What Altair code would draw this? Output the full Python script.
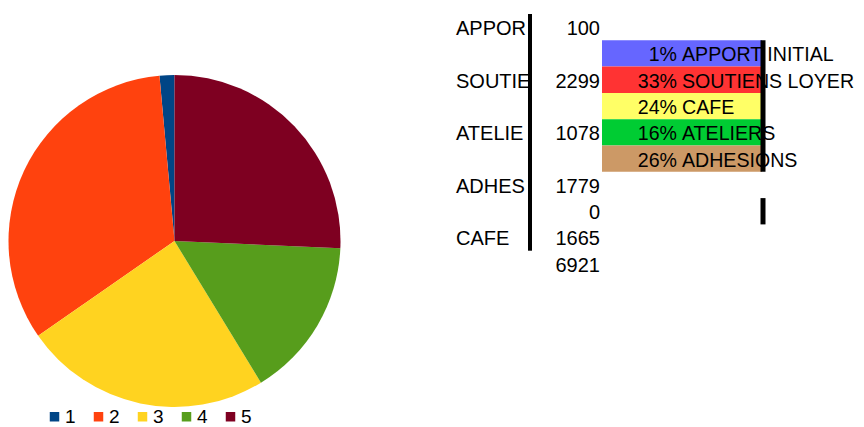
import altair as alt
import pandas as pd

# ---- data ----
slices = ["1", "2", "3", "4", "5"]
slice_values = [100, 2299, 1665, 1078, 1779]
slice_names = ["APPORT INITIAL", "SOUTIENS LOYER", "CAFE", "ATELIERS", "ADHESIONS"]

table_label_rows = [0, 2, 4, 6, 8]
table_labels = ["APPOR", "SOUTIE", "ATELIE", "ADHES", "CAFE"]
table_number_rows = [0, 2, 4, 6, 7, 8, 9]
table_numbers = [100, 2299, 1078, 1779, 0, 1665, 6921]

bar_rows = [1, 2, 3, 4, 5]

rule_starts = [0, 1, 7]
rule_ends = [9, 6, 8]

# ---- styles ----
pie_colors = ["#004586", "#ff420e", "#ffd320", "#579d1c", "#7e0021"]
bar_colors = ["#6666ff", "#ff3333", "#ffff66", "#00cc33", "#cc9966"]
FONT = "Liberation Sans"
TXT = "#000000"

total = sum(slice_values)
pie_df = pd.DataFrame({"slice": slices, "value": slice_values, "k": list(range(1, 6))})
bar_df = pd.DataFrame({
    "row": bar_rows,
    "row_end": [r + 1 for r in bar_rows],
    "name": slice_names,
    "pct": [f"{round(100 * v / total)}%" for v in slice_values],
})
lab_df = pd.DataFrame({"row": table_label_rows, "text": table_labels})
num_df = pd.DataFrame({"row": table_number_rows, "text": [str(n) for n in table_numbers]})
rule_df = pd.DataFrame({"row": rule_starts, "row_end": rule_ends, "which": ["a", "b", "c"]})

yscale = alt.Scale(domain=[0, 10], range=[6, 269])

pie = alt.Chart(pie_df).mark_arc(radius=166, x=166.5, y=233).encode(
    theta=alt.Theta("value:Q", stack=True),
    order=alt.Order("k:Q", sort="descending"),
    color=alt.Color(
        "slice:N",
        scale=alt.Scale(domain=slices, range=pie_colors),
        legend=alt.Legend(
            title=None,
            orient="none",
            legendX=37,
            legendY=399,
            direction="horizontal",
            symbolType="square",
            symbolSize=90,
            symbolStrokeWidth=0,
            labelFont=FONT,
            labelFontSize=19,
            labelColor=TXT,
            labelOffset=1,
            columnPadding=13,
            padding=0,
        ),
    ),
)

bars = alt.Chart(bar_df).mark_rect().encode(
    y=alt.Y("row:Q", scale=yscale, axis=None),
    y2="row_end:Q",
    x=alt.value(594),
    x2=alt.value(754),
    fill=alt.Fill("name:N", scale=alt.Scale(domain=slice_names, range=bar_colors), legend=None),
)

def txt(df, field, align, x, size=20):
    return alt.Chart(df).mark_text(
        align=align, baseline="alphabetic", dy=21, font=FONT, fontSize=size, color=TXT
    ).encode(y=alt.Y("row:Q", scale=yscale, axis=None), x=alt.value(x), text=f"{field}:N")

pct_text = txt(bar_df, "pct", "right", 669, 19.6)
name_text = txt(bar_df, "name", "left", 674, 19.6)
lab_text = txt(lab_df, "text", "left", 448)
num_text = txt(num_df, "text", "right", 592)

rule_left = alt.Chart(rule_df[rule_df.which == "a"]).mark_rule(color="#000000", strokeWidth=4).encode(
    y=alt.Y("row:Q", scale=yscale, axis=None), y2="row_end:Q", x=alt.value(522)
)
rule_right = alt.Chart(rule_df[rule_df.which != "a"]).mark_rule(color="#000000", strokeWidth=5).encode(
    y=alt.Y("row:Q", scale=yscale, axis=None), y2="row_end:Q", x=alt.value(755)
)

chart = alt.layer(
    pie, bars, pct_text, name_text, lab_text, num_text, rule_left, rule_right
).resolve_scale(color="independent", fill="independent").properties(
    width=848, height=419, autosize=alt.AutoSizeParams(type="none"), padding=0,
    background="#ffffff",
).configure_view(strokeWidth=0)

chart.save("out.html", embed_options={"renderer": "svg", "actions": False})
